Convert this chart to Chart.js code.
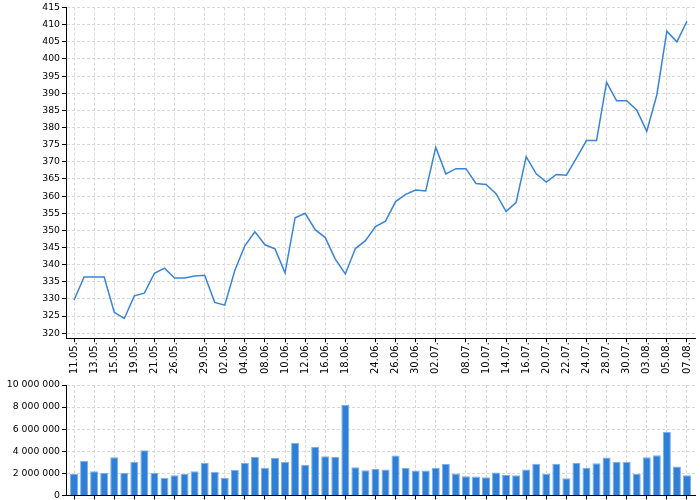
<!DOCTYPE html>
<html><head><meta charset="utf-8">
<script src="https://cdn.jsdelivr.net/npm/chart.js@4/dist/chart.umd.min.js"></script>
<style>
html,body{margin:0;padding:0;background:#fff;width:700px;height:500px;overflow:hidden}
.box{position:absolute;left:0;width:700px}
</style>
</head><body>
<div class="box" style="top:0;height:375px"><canvas id="c1"></canvas></div>
<div class="box" style="top:375px;height:128px"><canvas id="c2"></canvas></div>
<script>
const dates=["11.05.","12.05.","13.05.","14.05.","15.05.","18.05.","19.05.","20.05.","21.05.","22.05.",
"26.05.","27.05.","28.05.","29.05.","01.06.","02.06.","03.06.","04.06.","05.06.","08.06.",
"09.06.","10.06.","11.06.","12.06.","15.06.","16.06.","17.06.","18.06.","19.06.","22.06.",
"24.06.","25.06.","26.06.","29.06.","30.06.","01.07.","02.07.","06.07.","07.07.","08.07.",
"09.07.","10.07.","13.07.","14.07.","15.07.","16.07.","17.07.","20.07.","21.07.","22.07.",
"23.07.","24.07.","27.07.","28.07.","29.07.","30.07.","31.07.","03.08.","04.08.","05.08.",
"06.08.","07.08."];
const tickLabels=["11.05.","13.05.","15.05.","19.05.","21.05.","26.05.","29.05.","02.06.","04.06.","08.06.",
"10.06.","12.06.","16.06.","18.06.","24.06.","26.06.","30.06.","02.07.","08.07.","10.07.",
"14.07.","16.07.","20.07.","22.07.","24.07.","28.07.","30.07.","03.08.","05.08.","07.08."];
const closes=[329.7,336.4,336.4,336.4,326.1,324.3,330.9,331.7,337.5,339.0,
336.1,336.1,336.7,336.9,329.0,328.2,338.3,345.5,349.6,345.8,
344.6,337.6,353.7,355.0,350.2,347.9,341.6,337.3,344.7,347.0,
351.1,352.7,358.4,360.5,361.8,361.5,374.2,366.5,368.0,368.0,
363.7,363.4,360.7,355.5,358.2,371.5,366.5,364.1,366.3,366.1,
371.1,376.2,376.2,393.2,387.8,387.8,385.1,378.9,389.5,408.1,
405.0,411.0];
const volumes=[1930000,3120000,2200000,2050000,3460000,2050000,3060000,4100000,2020000,1590000,
1830000,1930000,2200000,2970000,2140000,1590000,2320000,2940000,3490000,2510000,
3390000,3030000,4770000,2750000,4400000,3550000,3490000,8200000,2540000,2290000,
2390000,2350000,3610000,2480000,2260000,2260000,2480000,2840000,1990000,1740000,
1710000,1650000,2080000,1870000,1830000,2350000,2870000,1930000,2870000,1560000,
2940000,2510000,2910000,3430000,3030000,3030000,1960000,3460000,3640000,5750000,
2630000,1830000];
const priceTicks=[320,325,330,335,340,345,350,355,360,365,370,375,380,385,390,395,400,405,410,415];
const volumeTicks=[0,2000000,4000000,6000000,8000000,10000000];

const tickIdx=tickLabels.map(l=>dates.indexOf(l));
Chart.defaults.font.family='"DejaVu Sans", sans-serif';
Chart.defaults.color='#000';
Chart.defaults.animation=false;

const grid=()=>({color:'#d9d9d9',tickColor:'#000',tickLength:4,lineWidth:1,offset:false});
const border=()=>({color:'#000',width:1,dash:[3,2]});
const xBase=()=>({type:'linear',min:-0.8,max:61.8,offset:false,
  afterBuildTicks:s=>{s.ticks=tickIdx.map(i=>({value:i}));},
  grid:grid(),border:border()});
const fmt=v=>String(v).replace(/\B(?=(\d{3})+(?!\d))/g,' ');

new Chart(document.getElementById('c1'),{
  type:'line',
  data:{datasets:[{data:closes.map((v,i)=>({x:i,y:v})),borderColor:'#3884d8',borderWidth:1.5,
    pointRadius:0,tension:0,fill:false}]},
  options:{responsive:true,maintainAspectRatio:false,
    layout:{padding:{top:5,right:5,bottom:1,left:0}},
    plugins:{legend:{display:false},tooltip:{enabled:false}},
    scales:{
      x:Object.assign(xBase(),{ticks:{autoSkip:false,minRotation:90,maxRotation:90,padding:0,
        font:{size:10},callback:v=>dates[v]}}),
      y:{min:318.55,max:415,
        afterBuildTicks:s=>{s.ticks=priceTicks.map(v=>({value:v}));},
        afterFit:s=>{s.width=66;},
        ticks:{padding:2,font:{size:9.3}},grid:grid(),border:border()}
    }}
});

new Chart(document.getElementById('c2'),{
  type:'bar',
  data:{datasets:[{data:volumes.map((v,i)=>({x:i,y:v})),backgroundColor:'#2f7fd6',
    borderColor:'#7db0ea',borderWidth:1,borderSkipped:'bottom',barPercentage:0.8,categoryPercentage:1}]},
  options:{responsive:true,maintainAspectRatio:false,
    layout:{padding:{top:10,right:5,bottom:2,left:0}},
    plugins:{legend:{display:false},tooltip:{enabled:false}},
    scales:{
      x:Object.assign(xBase(),{ticks:{display:false}}),
      y:{min:0,max:10000000,
        afterBuildTicks:s=>{s.ticks=volumeTicks.map(v=>({value:v}));},
        afterFit:s=>{s.width=66;},
        ticks:{padding:2,font:{size:9.3},callback:v=>fmt(v)},grid:grid(),border:border()}
    }}
});
</script>
</body></html>
